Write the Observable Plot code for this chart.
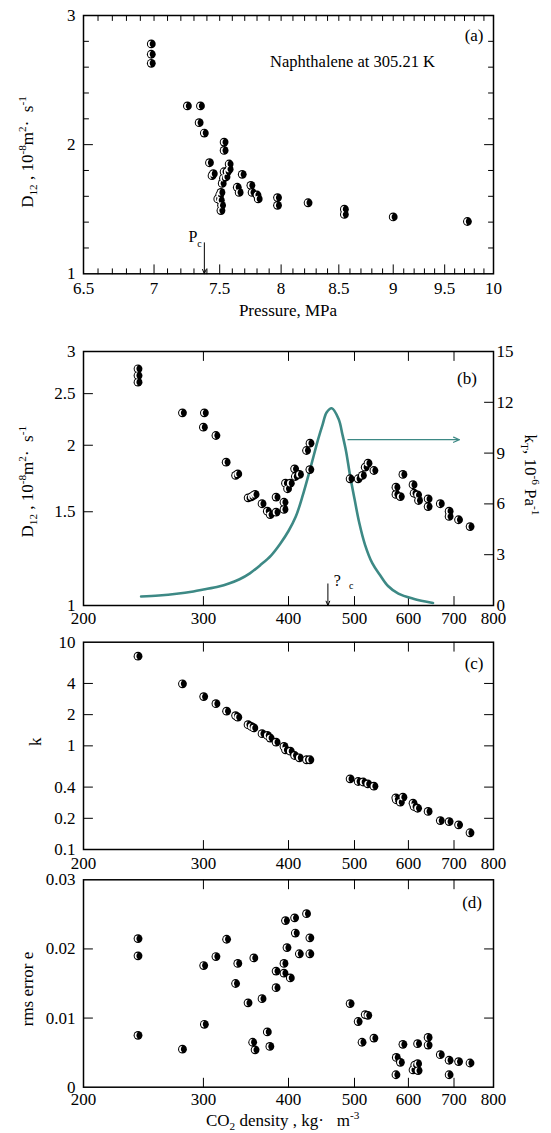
<!DOCTYPE html>
<html>
<head>
<meta charset="utf-8">
<script src="https://cdn.jsdelivr.net/npm/d3@7"></script>
<script src="https://cdn.jsdelivr.net/npm/@observablehq/plot@0.6"></script>
<style>
  body { margin: 0; background: #fff; }
  #chart { position: relative; width: 551px; height: 1133px; background: #fff; font-family: "Liberation Serif", "DejaVu Serif", "Times New Roman", serif; }
  #chart svg { position: absolute; left: 0; overflow: visible; }
  #chart svg text { font-family: "Liberation Serif", "DejaVu Serif", "Times New Roman", serif !important; }
</style>
</head>
<body>
<div id="chart"></div>
<script>
// ---------------- DATA ----------------
// Panel (a): pressure (MPa) vs D12 (1e-8 m2/s)
const P_A = [6.98, 6.98, 6.98, 7.25, 7.35, 7.34, 7.38, 7.535, 7.535, 7.42, 7.45, 7.44,
  7.575, 7.575, 7.56, 7.55, 7.535, 7.53, 7.52, 7.51, 7.50, 7.485, 7.505, 7.515, 7.51,
  7.68, 7.64, 7.655, 7.75, 7.76, 7.80, 7.81, 7.97, 7.97, 8.23, 8.55, 8.55, 9.00, 9.73];
const D_A = [2.78, 2.70, 2.63, 2.30, 2.30, 2.17, 2.09, 2.02, 1.955, 1.86, 1.775, 1.76,
  1.85, 1.81, 1.79, 1.75, 1.79, 1.74, 1.70, 1.63, 1.61, 1.58, 1.57, 1.53, 1.49,
  1.77, 1.67, 1.63, 1.685, 1.63, 1.61, 1.58, 1.59, 1.53, 1.55, 1.50, 1.46, 1.44, 1.405];

// Panel (b): CO2 density (kg/m3) vs D12
const rhoB = [240.5, 240.5, 240.5, 279.5, 301, 300, 313, 324, 334.5, 337,
  349, 352.7, 355.2, 357.3, 365.8, 372.4, 376, 383.6, 383.6, 394, 394, 396, 398.8, 402.5,
  408.4, 409.4, 415.2, 425.2, 430.2, 430, 492.7, 506.3, 513.6, 518.5, 523.4, 534,
  589, 575.3, 575.3, 583.9, 609.5, 611.7, 619, 621, 641.4, 641.4, 668.4, 688.6, 688.6, 710.9, 739.2];
const D_B = [2.784, 2.704, 2.627, 2.301, 2.301, 2.163, 2.086, 1.859, 1.755, 1.767,
  1.593, 1.60, 1.609, 1.617, 1.553, 1.504, 1.482, 1.598, 1.497, 1.563, 1.515, 1.697, 1.657, 1.697,
  1.806, 1.747, 1.763, 1.955, 2.018, 1.80, 1.730, 1.730, 1.755, 1.819, 1.851, 1.793,
  1.763, 1.668, 1.617, 1.602, 1.686, 1.625, 1.614, 1.575, 1.586, 1.534, 1.553, 1.504, 1.47, 1.449, 1.407];

// Panel (b): isothermal compressibility kT (1e-6 1/Pa) vs density
const rhoK = [243, 258, 274, 290, 300, 316, 327, 339, 351, 364, 377, 389, 400, 410, 419, 430, 442, 449, 455,
  463, 474, 480, 486, 492, 500, 508, 518, 531, 545, 560, 580, 610, 652];
const kTK = [0.53, 0.59, 0.69, 0.83, 0.94, 1.12, 1.30, 1.55, 1.90, 2.40, 2.95, 3.65, 4.4, 5.25, 6.4, 8.0, 9.8, 10.7, 11.4,
  11.65, 11.0, 10.1, 9.1, 7.8, 6.3, 4.9, 3.6, 2.5, 1.8, 1.15, 0.7, 0.4, 0.15];

// Panel (c): k vs density
const rhoC = [240.5, 279.5, 300.3, 313, 324.5, 334.5, 337, 348.9, 352.7, 355.8,
  365.8, 372.4, 376, 383.6, 394, 396, 402.5, 408.4, 415, 425.2,
  430, 492.7, 506.3, 515, 523, 534, 575, 576, 583.9, 589,
  609.5, 611.7, 619, 641.4, 668.4, 688.6, 711, 739];
const kC = [7.33, 3.97, 2.99, 2.55, 2.16, 1.96, 1.89, 1.60, 1.54, 1.49,
  1.31, 1.26, 1.19, 1.085, 0.986, 0.916, 0.889, 0.807, 0.767, 0.734,
  0.734, 0.481, 0.453, 0.448, 0.430, 0.408, 0.315, 0.302, 0.286, 0.32,
  0.28, 0.26, 0.25, 0.233, 0.190, 0.186, 0.173, 0.145];

// Panel (d): rms error e vs density
const rhoD = [240.5, 240.5, 240.5, 279.5, 300.3, 301, 313, 324.5, 334.5, 337,
  348.9, 355.8, 354.4, 357.3, 365.8, 372.4, 375.6, 383.6, 383.6, 394,
  394, 396, 398, 402.5, 408.4, 409.4, 415, 425.2, 430, 430,
  492.7, 506.3, 513, 518.5, 523, 534, 575.3, 576, 584, 589,
  609.5, 613, 619, 619, 620, 641.4, 641.4, 668.4, 688.6, 688.6, 711, 739];
const eD = [0.0215, 0.0190, 0.0075, 0.0055, 0.0176, 0.0091, 0.0189, 0.0214, 0.0150, 0.0179,
  0.0122, 0.0187, 0.0065, 0.0054, 0.0128, 0.0080, 0.0059, 0.0168, 0.0144, 0.0165,
  0.0179, 0.0241, 0.0202, 0.0158, 0.0245, 0.0223, 0.0193, 0.0251, 0.0216, 0.0193,
  0.0121, 0.0095, 0.0065, 0.0105, 0.0104, 0.0071, 0.0018, 0.0043, 0.0036, 0.0062,
  0.0025, 0.0032, 0.0063, 0.0034, 0.0024, 0.0072, 0.0061, 0.0047, 0.0039, 0.0018, 0.0037, 0.0035];

// Annotation values (data units)
const pcA = [{P: 7.38, D1: 1.24, D2: 1.0}];
const rhoCrit = [{rho: 457, D1: 1.098, D2: 1.0}];
const kArrow = [{rho1: 489, rho2: 713, kT: 9.79}];

// Tick values
const xTicksA = [6.5, 7, 7.5, 8, 8.5, 9, 9.5, 10];
const yTicksA = [1, 2, 3];
const xTicksRho = [200, 300, 400, 500, 600, 700, 800];
const yTicksB = [1, 1.5, 2, 2.5, 3];
const kTTicks = [0, 3, 6, 9, 12, 15];
const yTicksC = [0.1, 0.2, 0.4, 1, 2, 4, 10];
const yTicksD = [0, 0.01, 0.02, 0.03];

// ---------------- HELPERS ----------------
const FONT = '"Liberation Serif", "DejaVu Serif", "Times New Roman", serif';
const W = 551, ML = 83, MR = 58;
const TEAL = "#3d8985";
const chart = document.getElementById("chart");
const baseStyle = {fontFamily: FONT, fontSize: "17px", background: "none", overflow: "visible", color: "black"};

const tickShape = {draw(ctx, l) { ctx.moveTo(0, 0); ctx.lineTo(0, -l); }};
function ticks(values, dir, len) {
  const rot = {bottom: 0, top: 180, left: 90, right: -90}[dir];
  const ch = (dir === "bottom" || dir === "top") ? {x: d => d} : {y: d => d};
  return Plot.vector(values, {...ch, frameAnchor: dir, rotate: rot, length: len, anchor: "start",
    shape: tickShape, stroke: "black", strokeWidth: 1});
}
const crescent = {
  draw(ctx, size) {
    const r = Math.sqrt(size / Math.PI);
    const a = r * 0.72, c = -0.05 * r;
    ctx.moveTo(c, -a);
    ctx.arc(c, 0, a, -Math.PI / 2, Math.PI / 2, true);
    ctx.quadraticCurveTo(c - a * 0.9, 0, c, -a);
    ctx.closePath();
  }
};
function halfDots(data, x, y) {
  return [
    Plot.dot(data, {x, y, r: 4.4, fill: "black"}),
    Plot.dot(data, {x, y, r: 4.4, symbol: crescent, fill: "white"})
  ];
}
function richText(svg, x, y, parts, {rotate = 0, size = 17, anchor = "middle"} = {}) {
  const t = d3.select(svg).append("text")
    .attr("transform", `translate(${x},${y}) rotate(${rotate})`)
    .attr("text-anchor", anchor)
    .attr("font-family", FONT)
    .attr("font-size", size)
    .attr("fill", "black")
    .style("white-space", "pre");
  let cur = 0;
  for (const [s, kind] of parts) {
    const off = kind === "sup" ? -0.42 * size : kind === "sub" ? 0.25 * size : 0;
    t.append("tspan").attr("dy", off - cur).attr("font-size", kind ? 0.66 * size : size).text(s);
    cur = off;
  }
}
function place(svg, top) {
  svg.style.position = "absolute";
  svg.style.top = top + "px";
  chart.appendChild(svg);
}
const fmt = d => String(d);
const minorA = d3.range(6.6, 9.95, 0.1).map(v => +v.toFixed(1)).filter(v => !xTicksA.includes(v));
const minorYA = [1.2, 1.4, 1.6, 1.8, 2.2, 2.4, 2.6, 2.8];
const innerRho = xTicksRho.slice(1, -1);

// ---------------- PANEL A ----------------
const dataA = P_A.map((p, i) => ({P: p, D: D_A[i]}));
const svgA = Plot.plot({
  width: W, height: 320, marginLeft: ML, marginRight: MR, marginTop: 15, marginBottom: 46.7,
  x: {type: "log", domain: [6.5, 10]},
  y: {type: "linear", domain: [1, 3]},
  style: baseStyle,
  marks: [
    ticks(xTicksA.slice(1, -1), "bottom", 9), ticks(minorA, "bottom", 5),
    ticks(xTicksA.slice(1, -1), "top", 5), ticks(minorA, "top", 5),
    ticks([2], "left", 9), ticks(minorYA, "left", 5),
    ticks([2], "right", 9), ticks(minorYA, "right", 5),
    Plot.frame({stroke: "black", strokeWidth: 1.5}),
    Plot.axisX({ticks: xTicksA, tickFormat: fmt, tickSize: 0, tickPadding: 8, anchor: "bottom", label: null, fontSize: 17}),
    Plot.axisY({ticks: yTicksA, tickFormat: fmt, tickSize: 0, tickPadding: 8, anchor: "left", label: null, fontSize: 17}),
    ...halfDots(dataA, "P", "D"),
    Plot.arrow(pcA, {x1: "P", x2: "P", y1: "D1", y2: "D2", stroke: "black", strokeWidth: 1, headLength: 7, headAngle: 45}),
    Plot.text(pcA, {x: "P", y: "D1", text: () => "P", dx: -11.3, dy: -5.6, fontSize: 16}),
    Plot.text(pcA, {x: "P", y: "D1", text: () => "c", dx: -5, dy: 0.5, fontSize: 10}),
    Plot.text(["Naphthalene at 305.21 K"], {frameAnchor: "top-right", text: d => d, textAnchor: "end", lineAnchor: "middle", dx: -58.5, dy: 46, fontSize: 16.5}),
    Plot.text(["(a)"], {frameAnchor: "top-right", text: d => d, textAnchor: "end", lineAnchor: "middle", dx: -10, dy: 20, fontSize: 17})
  ]
});
place(svgA, 0);
richText(svgA, 33, 152, [["D"], ["12", "sub"], [" , 10"], ["-8", "sup"], ["m"], ["2", "sup"], ["\u00B7  s"], ["-1", "sup"]], {rotate: -90});
richText(svgA, 288, 316, [["Pressure, MPa"]]);

// ---------------- PANEL B ----------------
const dataB = rhoB.map((r, i) => ({rho: r, D: D_B[i]}));
const dataK = rhoK.map((r, i) => ({rho: r, kT: kTK[i]}));
const kToY = k => Math.pow(3, k / 15);   // maps kT axis [0,15] onto D axis [1,3] (log)
const svgB = Plot.plot({
  width: W, height: 300, marginLeft: ML, marginRight: MR, marginTop: 21, marginBottom: 25,
  x: {type: "log", domain: [200, 800]},
  y: {type: "log", domain: [1, 3]},
  style: baseStyle,
  marks: [
    ticks(innerRho, "bottom", 9), ticks(innerRho, "top", 9),
    ticks(yTicksB.slice(1, -1), "left", 9),
    ticks(kTTicks.slice(1, -1).map(kToY), "right", 9),
    Plot.frame({stroke: "black", strokeWidth: 1.5}),
    Plot.axisX({ticks: xTicksRho, tickFormat: fmt, tickSize: 0, tickPadding: 6, anchor: "bottom", label: null, fontSize: 17}),
    Plot.axisY({ticks: yTicksB, tickFormat: fmt, tickSize: 0, tickPadding: 8, anchor: "left", label: null, fontSize: 17}),
    Plot.axisY({ticks: kTTicks.map(kToY), tickFormat: v => String(Math.round(15 * Math.log(v) / Math.log(3))), tickSize: 0, tickPadding: 3, anchor: "right", label: null, fontSize: 17}),
    Plot.line(dataK, {x: "rho", y: d => kToY(d.kT), stroke: TEAL, strokeWidth: 2.6, curve: "catmull-rom"}),
    ...halfDots(dataB, "rho", "D"),
    Plot.arrow(kArrow, {x1: "rho1", x2: "rho2", y1: d => kToY(d.kT), y2: d => kToY(d.kT), stroke: TEAL, strokeWidth: 1.2, headLength: 8, headAngle: 47}),
    Plot.arrow(rhoCrit, {x1: "rho", x2: "rho", y1: "D1", y2: "D2", stroke: "black", strokeWidth: 1, headLength: 7, headAngle: 45}),
    Plot.text(rhoCrit, {x: "rho", y: "D1", text: () => "?", dx: 9.4, dy: -3.3, fontSize: 16}),
    Plot.text(rhoCrit, {x: "rho", y: "D1", text: () => "c", dx: 23.4, dy: 1.7, fontSize: 10}),
    Plot.text(["(b)"], {frameAnchor: "top-right", text: d => d, textAnchor: "end", lineAnchor: "middle", dx: -16.6, dy: 27.3, fontSize: 17})
  ]
});
place(svgB, 330);
richText(svgB, 33, 151.7, [["D"], ["12", "sub"], [" , 10"], ["-8", "sup"], ["m"], ["2", "sup"], ["\u00B7  s"], ["-1", "sup"]], {rotate: -90});
richText(svgB, 525, 145, [["k"], ["T", "sub"], [", 10"], ["-6", "sup"], [" Pa"], ["-1", "sup"]], {rotate: 90});

// ---------------- PANEL C ----------------
const dataC = rhoC.map((r, i) => ({rho: r, k: kC[i]}));
const svgC = Plot.plot({
  width: W, height: 241, marginLeft: ML, marginRight: MR, marginTop: 11.7, marginBottom: 22,
  x: {type: "log", domain: [200, 800]},
  y: {type: "log", domain: [0.1, 10]},
  style: baseStyle,
  marks: [
    ticks(innerRho, "bottom", 9), ticks(innerRho, "top", 9),
    ticks(yTicksC.slice(1, -1), "left", 9), ticks(yTicksC.slice(1, -1), "right", 9),
    Plot.frame({stroke: "black", strokeWidth: 1.5}),
    Plot.axisX({ticks: xTicksRho, tickFormat: fmt, tickSize: 0, tickPadding: 7, anchor: "bottom", label: null, fontSize: 17}),
    Plot.axisY({ticks: yTicksC, tickFormat: fmt, tickSize: 0, tickPadding: 8, anchor: "left", label: null, fontSize: 17}),
    ...halfDots(dataC, "rho", "k"),
    Plot.text(["(c)"], {frameAnchor: "top-right", text: d => d, textAnchor: "end", lineAnchor: "middle", dx: -10, dy: 21.6, fontSize: 17})
  ]
});
place(svgC, 630);
richText(svgC, 41, 111.7, [["k"]], {rotate: -90});

// ---------------- PANEL D ----------------
const dataD = rhoD.map((r, i) => ({rho: r, e: eD[i]}));
const svgD = Plot.plot({
  width: W, height: 263, marginLeft: ML, marginRight: MR, marginTop: 9.3, marginBottom: 46.3,
  x: {type: "log", domain: [200, 800]},
  y: {type: "linear", domain: [0, 0.03]},
  style: baseStyle,
  marks: [
    ticks(innerRho, "bottom", 9), ticks(innerRho, "top", 9),
    ticks(yTicksD.slice(1, -1), "left", 9), ticks(yTicksD.slice(1, -1), "right", 9),
    Plot.frame({stroke: "black", strokeWidth: 1.5}),
    Plot.axisX({ticks: xTicksRho, tickFormat: fmt, tickSize: 0, tickPadding: 6, anchor: "bottom", label: null, fontSize: 17}),
    Plot.axisY({ticks: yTicksD, tickFormat: d => d === 0 ? "0" : d.toFixed(2), tickSize: 0, tickPadding: 8, anchor: "left", label: null, fontSize: 17}),
    ...halfDots(dataD, "rho", "e"),
    Plot.text(["(d)"], {frameAnchor: "top-right", text: d => d, textAnchor: "end", lineAnchor: "middle", dx: -11.5, dy: 22.4, fontSize: 17})
  ]
});
place(svgD, 870);
richText(svgD, 33, 119, [["rms error e"]], {rotate: -90});
richText(svgD, 282.6, 256, [["CO"], ["2", "sub"], [" density , kg\u00B7   m"], ["-3", "sup"]]);
</script>
</body>
</html>
